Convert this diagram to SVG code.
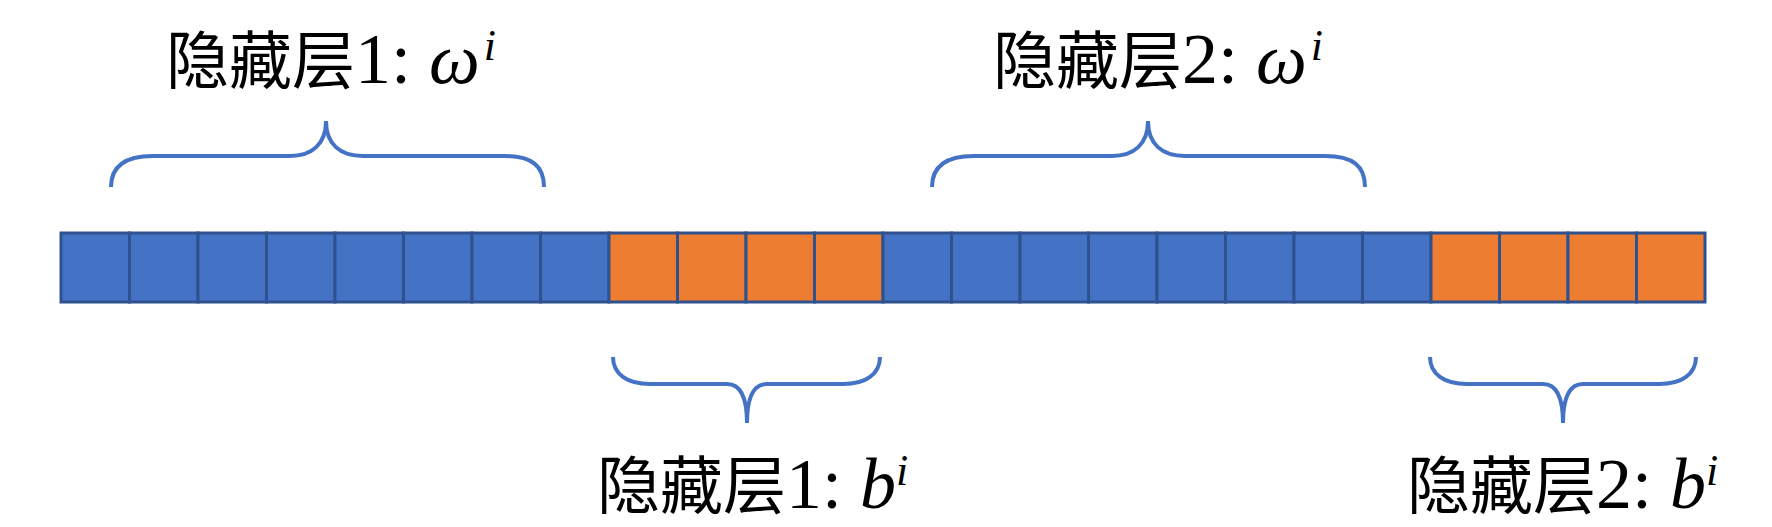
<svg xmlns="http://www.w3.org/2000/svg" width="1772" height="527" viewBox="0 0 1772 527">
<style>
.w{fill:#4472C4;stroke:#2F528F;stroke-width:3}
.b{fill:#ED7D31;stroke:#2F528F;stroke-width:3}
.br{fill:none;stroke:#4472C4;stroke-width:4;stroke-linecap:butt}
</style>
<rect width="1772" height="527" fill="#fff"/>
<g id="strip">
<rect class="w" x="61" y="233" width="68.5" height="69"/>
<rect class="w" x="129.5" y="233" width="68.5" height="69"/>
<rect class="w" x="198" y="233" width="68.5" height="69"/>
<rect class="w" x="266.5" y="233" width="68.5" height="69"/>
<rect class="w" x="335" y="233" width="68.5" height="69"/>
<rect class="w" x="403.5" y="233" width="68.5" height="69"/>
<rect class="w" x="472" y="233" width="68.5" height="69"/>
<rect class="w" x="540.5" y="233" width="68.5" height="69"/>
<rect class="b" x="609" y="233" width="68.5" height="69"/>
<rect class="b" x="677.5" y="233" width="68.5" height="69"/>
<rect class="b" x="746" y="233" width="68.5" height="69"/>
<rect class="b" x="814.5" y="233" width="68.5" height="69"/>
<rect class="w" x="883" y="233" width="68.5" height="69"/>
<rect class="w" x="951.5" y="233" width="68.5" height="69"/>
<rect class="w" x="1020" y="233" width="68.5" height="69"/>
<rect class="w" x="1088.5" y="233" width="68.5" height="69"/>
<rect class="w" x="1157" y="233" width="68.5" height="69"/>
<rect class="w" x="1225.5" y="233" width="68.5" height="69"/>
<rect class="w" x="1294" y="233" width="68.5" height="69"/>
<rect class="w" x="1362.5" y="233" width="68.5" height="69"/>
<rect class="b" x="1431" y="233" width="68.5" height="69"/>
<rect class="b" x="1499.5" y="233" width="68.5" height="69"/>
<rect class="b" x="1568" y="233" width="68.5" height="69"/>
<rect class="b" x="1636.5" y="233" width="68.5" height="69"/>
</g>
<g id="braces">
<path class="br" d="M111,187 C111,166 125,156 153,156 L290,156 C312,156 326,144 326,121 C326,144 340,156 363,156 L504,156 C532,156 544,166 544,187"/>
<path class="br" d="M932,187 C932,166 946,156 974,156 L1112,156 C1134,156 1148,144 1148,121 C1148,144 1162,156 1185,156 L1325,156 C1353,156 1365,166 1365,187"/>
<path class="br" d="M613,357 C613,374 627,384 650,384 L727,384 C740,384 747,396 747,423 C747,396 754,384 767,384 L843,384 C866,384 880,374 880,357"/>
<path class="br" d="M1430,357 C1430,374 1444,384 1467,384 L1543,384 C1556,384 1563,396 1563,423 C1563,396 1570,384 1583,384 L1659,384 C1682,384 1696,374 1696,357"/>
</g>
<g id="label-w1">
<text x="166" y="83" style="font-family:'Noto Sans CJK SC',sans-serif;font-size:63px" fill="#000">隐藏层</text>
<text x="355" y="83" style="font-family:'Liberation Serif',serif;font-size:72px" fill="#000">1: <tspan style="font-style:italic">ω</tspan><tspan style="font-style:italic;font-size:44px" dx="4" dy="-23">i</tspan></text>
</g>
<g id="label-w2">
<text x="993" y="83" style="font-family:'Noto Sans CJK SC',sans-serif;font-size:63px" fill="#000">隐藏层</text>
<text x="1182" y="83" style="font-family:'Liberation Serif',serif;font-size:72px" fill="#000">2: <tspan style="font-style:italic">ω</tspan><tspan style="font-style:italic;font-size:44px" dx="4" dy="-23">i</tspan></text>
</g>
<g id="label-b1">
<text x="597" y="508" style="font-family:'Noto Sans CJK SC',sans-serif;font-size:63px" fill="#000">隐藏层</text>
<text x="786" y="508" style="font-family:'Liberation Serif',serif;font-size:72px" fill="#000">1: <tspan style="font-style:italic">b</tspan><tspan style="font-style:italic;font-size:44px" dy="-23">i</tspan></text>
</g>
<g id="label-b2">
<text x="1407" y="508" style="font-family:'Noto Sans CJK SC',sans-serif;font-size:63px" fill="#000">隐藏层</text>
<text x="1596" y="508" style="font-family:'Liberation Serif',serif;font-size:72px" fill="#000">2: <tspan style="font-style:italic">b</tspan><tspan style="font-style:italic;font-size:44px" dy="-23">i</tspan></text>
</g>
</svg>
